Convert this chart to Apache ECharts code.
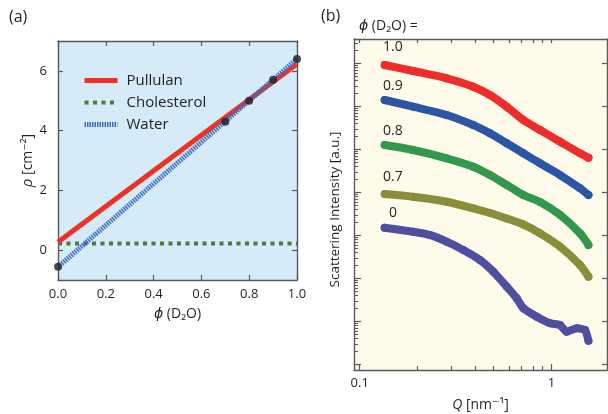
<!DOCTYPE html>
<html><head><meta charset="utf-8">
<script src="https://cdn.jsdelivr.net/npm/echarts@6/dist/echarts.min.js"></script>
<style>html,body{margin:0;padding:0;background:#fff}#c{width:608px;height:414px}</style>
</head><body><div id="c"></div>
<script>
// ---------- Panel (a) data ----------
const phiLine = [0, 1];
const pullulan = [0.27, 6.23];
const cholesterol = [0.22, 0.22];
const water = [-0.56, 6.40];
const phiPoints = [0, 0.7, 0.8, 0.9, 1.0];
const rhoPoints = [-0.56, 4.3, 5.0, 5.7, 6.4];
const aYTicks = [0, 2, 4, 6];

// ---------- Panel (b) data ----------
const qGrid = [0.135, 0.190, 0.284, 0.391, 0.478, 0.585, 0.714, 0.873, 1.11, 1.41, 1.56];
const i10 = [9.12e6, 6.62e6, 4.48e6, 2.86e6, 1.83e6, 9.79e5, 4.80e5, 2.81e5, 1.50e5, 8.07e4, 6.38e4];
const i09 = [1.40e6, 9.79e5, 6.28e5, 3.67e5, 2.36e5, 1.38e5, 8.07e4, 4.72e4, 2.52e4, 1.24e4, 8.65e3];
const i08 = [1.26e5, 9.64e4, 6.18e4, 3.94e4, 2.52e4, 1.48e4, 8.65e3, 5.95e3, 2.97e3, 1.11e3, 595];
const i07 = [9.12e3, 7.90e3, 6.04e3, 4.25e3, 3.30e3, 2.46e3, 1.78e3, 1.11e3, 543, 204, 109];
const qPurple = [0.135, 0.190, 0.232, 0.284, 0.347, 0.424, 0.498, 0.585, 0.659, 0.714, 0.839, 0.985, 1.11, 1.20, 1.36, 1.50, 1.56];
const i00 = [1.50e3, 1.21e3, 1.02e3, 710, 455, 267, 142, 63.8, 34.3, 20.1, 12.8, 8.99, 8.20, 5.73, 6.87, 6.28, 3.54];
const curveLabels = ['1.0', '0.9', '0.8', '0.7', '0'];
const bXMajor = [0.1, 1];
const bXMinor = [0.2, 0.3, 0.4, 0.5, 0.6, 0.7, 0.8, 0.9];
const bYMajor = [1, 10, 100, 1e3, 1e4, 1e5, 1e6, 1e7];
const bYMinor = [];
bYMajor.forEach(function (d) { for (let m = 2; m <= 9; m++) bYMinor.push(m * d); });

const FONT = "'Open Sans', 'DejaVu Sans', sans-serif";
const TXT = '#231f20';
const AXC = '#58595b';

function zip(xs, ys) { return xs.map(function (x, i) { return [x, ys[i]]; }); }

function frameAxis(extra) {
  return Object.assign({
    axisLine: { show: true, onZero: false, lineStyle: { color: AXC, width: 1.4 } },
    axisTick: { show: true, inside: true, length: 5, lineStyle: { color: AXC, width: 1.2 } },
    axisLabel: { show: false },
    splitLine: { show: false }
  }, extra);
}

const chart = echarts.init(document.getElementById('c'), null, { renderer: 'canvas' });

const bColors = ['#ec2d2a', '#2c56a4', '#33984b', '#8c8d3a', '#4f4fa0'];
const bData = [zip(qGrid, i10), zip(qGrid, i09), zip(qGrid, i08), zip(qGrid, i07), zip(qPurple, i00)];

const bSeries = bData.map(function (d, k) {
  return {
    type: 'line', name: 'phi ' + curveLabels[k], xAxisIndex: 2, yAxisIndex: 2,
    data: d, smooth: k === 4 ? 0.15 : 0.3,
    symbol: 'circle', symbolSize: 8, showAllSymbol: true,
    itemStyle: { color: bColors[k] },
    lineStyle: { color: bColors[k], width: 8, cap: 'round', join: 'round' },
    z: 3
  };
});

const option = {
  animation: false,
  backgroundColor: '#ffffff',
  textStyle: { fontFamily: FONT, color: TXT },
  grid: [
    { left: 58, top: 41, width: 239, height: 239, show: true, backgroundColor: '#d5ebf8', borderWidth: 0, containLabel: false, outerBoundsMode: 'none' },
    { left: 354, top: 39, width: 253, height: 331, show: true, backgroundColor: '#fffbea', borderWidth: 0, containLabel: false, outerBoundsMode: 'none' }
  ],
  legend: {
    data: ['Pullulan', 'Cholesterol', 'Water'],
    orient: 'vertical', left: 82, top: 73, padding: 0,
    itemWidth: 33, itemHeight: 12, itemGap: 7,
    itemStyle: { opacity: 0 },
    lineStyle: { width: 'inherit', type: 'inherit' },
    textStyle: { fontSize: 15, color: TXT, fontFamily: FONT, padding: [0, 0, 0, 4] },
    selectedMode: false
  },
  xAxis: [
    frameAxis({ type: 'value', gridIndex: 0, position: 'bottom', min: 0, max: 1, interval: 0.2,
      axisLabel: { show: true, margin: 8, fontSize: 13, color: TXT, fontFamily: FONT, formatter: function (v) { return v.toFixed(1); } },
      name: '{i|ϕ} (D₂O)', nameLocation: 'middle', nameGap: 27,
      nameTextStyle: { fontSize: 14, color: TXT, fontFamily: FONT, rich: { i: { fontStyle: 'italic', fontSize: 14, fontFamily: FONT, color: TXT } } } }),
    frameAxis({ type: 'value', gridIndex: 0, position: 'top', min: 0, max: 1, interval: 0.2 }),
    frameAxis({ type: 'log', gridIndex: 1, position: 'bottom', min: 0.0934, max: 1.95,
      axisTick: { show: true, inside: true, length: 6, customValues: bXMajor, lineStyle: { color: AXC, width: 1.2 } },
      axisLabel: { show: true, margin: 7, fontSize: 13, color: TXT, fontFamily: FONT, customValues: bXMajor, formatter: function (v) { return String(v); } },
      name: '{i|Q} [nm⁻¹]', nameLocation: 'middle', nameGap: 28,
      nameTextStyle: { fontSize: 14, color: TXT, fontFamily: FONT, rich: { i: { fontStyle: 'italic', fontSize: 14, fontFamily: FONT, color: TXT } } } }),
    frameAxis({ type: 'log', gridIndex: 1, position: 'bottom', min: 0.0934, max: 1.95,
      axisLine: { show: false, onZero: false },
      axisTick: { show: true, inside: true, length: 4, customValues: bXMinor, lineStyle: { color: AXC, width: 1.2 } } }),
    frameAxis({ type: 'log', gridIndex: 1, position: 'top', min: 0.0934, max: 1.95,
      axisTick: { show: true, inside: true, length: 4, customValues: bXMajor.concat(bXMinor), lineStyle: { color: AXC, width: 1.2 } } })
  ],
  yAxis: [
    frameAxis({ type: 'value', gridIndex: 0, position: 'left', min: -1, max: 7,
      axisTick: { show: true, inside: true, length: 5, customValues: aYTicks, lineStyle: { color: AXC, width: 1.2 } },
      axisLabel: { show: true, margin: 11, fontSize: 13, color: TXT, fontFamily: FONT, customValues: aYTicks },
      name: '{i|ρ} [cm⁻²]', nameLocation: 'middle', nameGap: 22, nameRotate: 90,
      nameTextStyle: { fontSize: 14, color: TXT, fontFamily: FONT, rich: { i: { fontStyle: 'italic', fontSize: 15, fontFamily: FONT, color: TXT } } } }),
    frameAxis({ type: 'value', gridIndex: 0, position: 'right', min: -1, max: 7,
      axisTick: { show: true, inside: true, length: 5, customValues: aYTicks, lineStyle: { color: AXC, width: 1.2 } } }),
    frameAxis({ type: 'log', gridIndex: 1, position: 'left', min: 0.737, max: 3.67e7,
      axisTick: { show: true, inside: true, length: 7, customValues: bYMajor, lineStyle: { color: AXC, width: 1.2 } },
      name: 'Scattering Intensity [a.u.]', nameLocation: 'middle', nameGap: 12, nameRotate: 90,
      nameTextStyle: { fontSize: 13.5, color: TXT, fontFamily: FONT, padding: [0, 10, 0, 0] } }),
    frameAxis({ type: 'log', gridIndex: 1, position: 'left', min: 0.737, max: 3.67e7,
      axisLine: { show: false, onZero: false },
      axisTick: { show: true, inside: true, length: 4, customValues: bYMinor, lineStyle: { color: AXC, width: 1 } } }),
    frameAxis({ type: 'log', gridIndex: 1, position: 'right', min: 0.737, max: 3.67e7,
      axisTick: { show: true, inside: true, length: 5, customValues: bYMajor, lineStyle: { color: AXC, width: 1.2 } } })
  ],
  graphic: [
    { type: 'text', left: 9, top: 9, style: { text: '(a)', fontSize: 16, fill: TXT, fontFamily: FONT } },
    { type: 'text', left: 321, top: 8, style: { text: '(b)', fontSize: 16, fill: TXT, fontFamily: FONT } },
    { type: 'text', left: 359, top: 19, style: { text: '{i|ϕ} (D₂O) =', fontSize: 14, fill: TXT, fontFamily: FONT,
      rich: { i: { fontStyle: 'italic', fontSize: 14, fontFamily: FONT, fill: TXT } } } },
    { type: 'text', left: 383, top: 40, style: { text: curveLabels[0], fontSize: 14, fill: TXT, fontFamily: FONT } },
    { type: 'text', left: 383, top: 79, style: { text: curveLabels[1], fontSize: 14, fill: TXT, fontFamily: FONT } },
    { type: 'text', left: 383, top: 124, style: { text: curveLabels[2], fontSize: 14, fill: TXT, fontFamily: FONT } },
    { type: 'text', left: 383, top: 170, style: { text: curveLabels[3], fontSize: 14, fill: TXT, fontFamily: FONT } },
    { type: 'text', left: 389, top: 206, style: { text: curveLabels[4], fontSize: 14, fill: TXT, fontFamily: FONT } }
  ],
  series: [
    { type: 'line', name: 'Cholesterol', xAxisIndex: 0, yAxisIndex: 0, data: zip(phiLine, cholesterol),
      symbol: 'none', lineStyle: { color: '#4b7a3c', width: 4, type: [4, 4.5], cap: 'butt' }, itemStyle: { color: '#4b7a3c' }, z: 2 },
    { type: 'line', name: 'Pullulan', xAxisIndex: 0, yAxisIndex: 0, data: zip(phiLine, pullulan),
      symbol: 'none', lineStyle: { color: '#ee3124', width: 5 }, itemStyle: { color: '#ee3124' }, z: 3 },
    { type: 'line', name: 'Water', xAxisIndex: 0, yAxisIndex: 0, data: zip(phiLine, water),
      symbol: 'none', lineStyle: { color: '#3a6cc2', width: 5, type: [1.5, 1], cap: 'butt' }, itemStyle: { color: '#3a6cc2' }, z: 4 },
    { type: 'scatter', name: 'points', xAxisIndex: 0, yAxisIndex: 0, data: zip(phiPoints, rhoPoints),
      symbolSize: 8, itemStyle: { color: '#231f20' }, clip: false, z: 5 }
  ].concat(bSeries)
};
chart.setOption(option);
</script>
</body></html>
